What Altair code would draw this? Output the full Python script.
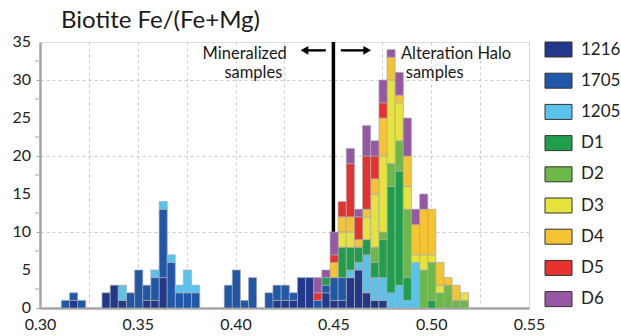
import altair as alt
import pandas as pd

# ---------------- data ----------------
bin_left = [0.3109, 0.3151, 0.3192, 0.3234, 0.3276, 0.3317, 0.3359, 0.3400, 0.3442, 0.3484,
            0.3525, 0.3567, 0.3609, 0.3650, 0.3692, 0.3733, 0.3775, 0.3817, 0.3858, 0.3900,
            0.3942, 0.3983, 0.4025, 0.4066, 0.4108, 0.4150, 0.4191, 0.4233, 0.4275, 0.4316,
            0.4358, 0.4399, 0.4441, 0.4483, 0.4524, 0.4566, 0.4608, 0.4649, 0.4691, 0.4733,
            0.4774, 0.4816, 0.4857, 0.4899, 0.4941, 0.4982, 0.5024, 0.5065, 0.5107, 0.5149]
BIN_W = 0.00416

series = ["1216", "1705", "1205", "D1", "D2", "D3", "D4", "D5", "D6"]
colors = ["#22398b", "#2157a8", "#5bc2ec", "#1f9e4b", "#6cb84b", "#e6e33c", "#f6c332", "#e5322f", "#9657a5"]

#            0  1  2  3  4  5  6  7  8  9 10 11 12 13 14 15 16 17 18 19 20 21 22 23 24 25 26 27 28 29 30 31 32 33 34 35 36 37 38 39 40 41 42 43 44 45 46 47 48 49
n_1216 = [0, 1, 0, 0, 0, 2, 3, 1, 0, 0, 1, 1, 4, 0, 0, 0, 0, 0, 0, 0, 0, 0, 0, 0, 0, 0, 1, 1, 1, 4, 4, 0, 2, 1, 1, 4, 5, 2, 1, 1, 0, 0, 0, 0, 0, 0, 0, 0, 0, 0]
n_1705 = [1, 1, 1, 0, 0, 0, 0, 0, 2, 5, 2, 3, 9, 6, 2, 2, 2, 0, 0, 0, 3, 5, 1, 4, 0, 2, 2, 2, 1, 0, 0, 1, 1, 3, 3, 0, 0, 0, 0, 0, 0, 0, 0, 0, 0, 0, 0, 0, 0, 0]
n_1205 = [0, 0, 0, 0, 0, 0, 0, 2, 0, 0, 0, 1, 1, 1, 1, 3, 1, 0, 0, 0, 0, 0, 0, 0, 0, 0, 0, 0, 0, 0, 0, 0, 0, 0, 0, 1, 1, 5, 3, 3, 2, 3, 1, 6, 0, 0, 0, 0, 0, 0]
n_D1 =   [0, 0, 0, 0, 0, 0, 0, 0, 0, 0, 0, 0, 0, 0, 0, 0, 0, 0, 0, 0, 0, 0, 0, 0, 0, 0, 0, 0, 0, 0, 0, 0, 1, 0, 4, 3, 2, 2, 2, 5, 14, 15, 3, 0, 0, 1, 0, 0, 0, 0]
n_D2 =   [0, 0, 0, 0, 0, 0, 0, 0, 0, 0, 0, 0, 0, 0, 0, 0, 0, 0, 0, 0, 0, 0, 0, 0, 0, 0, 0, 0, 0, 0, 0, 0, 0, 0, 0, 0, 0, 0, 2, 1, 3, 4, 9, 0, 5, 5, 2, 3, 1, 1]
n_D3 =   [0, 0, 0, 0, 0, 0, 0, 0, 0, 0, 0, 0, 0, 0, 0, 0, 0, 0, 0, 0, 0, 0, 0, 0, 0, 0, 0, 0, 0, 0, 0, 0, 0, 0, 2, 2, 0, 3, 7, 10, 11, 5, 3, 1, 2, 1, 1, 0, 0, 1]
n_D4 =   [0, 0, 0, 0, 0, 0, 0, 0, 0, 0, 0, 0, 0, 0, 0, 0, 0, 0, 0, 0, 0, 0, 0, 0, 0, 0, 0, 0, 0, 0, 0, 0, 0, 2, 2, 2, 1, 1, 2, 5, 3, 1, 4, 4, 6, 6, 3, 1, 2, 0]
n_D5 =   [0, 0, 0, 0, 0, 0, 0, 0, 0, 0, 0, 0, 0, 0, 0, 0, 0, 0, 0, 0, 0, 0, 0, 0, 0, 0, 0, 0, 0, 0, 0, 1, 0, 1, 2, 7, 3, 7, 3, 2, 0, 0, 0, 0, 0, 0, 0, 0, 0, 0]
n_D6 =   [0, 0, 0, 0, 0, 0, 0, 0, 0, 0, 0, 0, 0, 0, 0, 0, 0, 0, 0, 0, 0, 0, 0, 0, 0, 0, 0, 0, 0, 0, 0, 2, 1, 3, 0, 2, 1, 4, 2, 3, 1, 3, 5, 2, 2, 0, 0, 0, 0, 0]

y_major = [0, 5, 10, 15, 20, 25, 30, 35]
y_minor = [2.5, 7.5, 12.5, 17.5, 22.5, 27.5, 32.5]
x_ticks = [0.30, 0.325, 0.35, 0.375, 0.40, 0.425, 0.45, 0.475, 0.50, 0.525, 0.55]

divider_x = [0.45]
arrow_y = [33.9]
left_arrow = [0.4461, 0.4360]
right_arrow = [0.4538, 0.4665]
left_head = [0.4352]
right_head = [0.4673]

# ---------------- tables ----------------
counts = [n_1216, n_1705, n_1205, n_D1, n_D2, n_D3, n_D4, n_D5, n_D6]
rows = []
for si, (name, vals) in enumerate(zip(series, counts)):
    for k, n in enumerate(vals):
        if n > 0:
            rows.append({"x0": bin_left[k], "x1": round(bin_left[k] + BIN_W, 5),
                         "series": name, "n": n, "ord": si})
df = pd.DataFrame(rows)

FONT = "Lato"
xscale = alt.Scale(domain=[0.30, 0.55], nice=False, zero=False)
yscale = alt.Scale(domain=[0, 35], nice=False)

x_axis = alt.Axis(
    values=x_ticks,
    labelExpr="round(datum.value*40) % 2 == 0 ? format(datum.value, '.2f') : ''",
    title=None, grid=True, gridDash=[3, 3], gridColor="#cccccc", gridWidth=1,
    ticks=False, labelFontSize=16, labelFont=FONT, labelColor="#222222",
    labelPadding=8, domainColor="#a6a6a6", domainWidth=2.5,
    labelFlush=False, labelOverlap=False,
)
y_axis = alt.Axis(
    values=y_major, labels=False,
    title=None, grid=True, gridDash=[3, 3], gridColor="#cccccc", gridWidth=1,
    ticks=True, tickSize=4, tickColor="#a6a6a6",
    domainColor="#a6a6a6", domainWidth=2.5,
)

divider = alt.Chart(pd.DataFrame({"x": divider_x})).mark_rule(
    color="black", strokeWidth=3.5
).encode(
    x=alt.X("x:Q", scale=xscale, axis=x_axis),
    y=alt.value(0), y2=alt.value(266),
)

minor = alt.Chart(pd.DataFrame({"y": y_minor})).mark_rule(
    color="#a6a6a6", strokeWidth=1
).encode(
    y=alt.Y("y:Q", scale=yscale, axis=y_axis),
    x=alt.value(-5), x2=alt.value(-1),
)

ylabels = alt.Chart(pd.DataFrame({"y": y_major})).mark_text(
    align="right", baseline="middle", font=FONT, fontSize=16, color="#222222"
).encode(
    y=alt.Y("y:Q", scale=yscale, axis=y_axis),
    x=alt.value(-9),
    text=alt.Text("y:Q", format="d"),
)

bars = alt.Chart(df).transform_stack(
    stack="n", as_=["y0", "y1"], groupby=["x0"],
    sort=[alt.SortField("ord", order="ascending")],
).mark_bar(stroke="#a9a9a9", strokeWidth=0.7).encode(
    x=alt.X("x0:Q", scale=xscale, axis=x_axis),
    x2="x1:Q",
    y=alt.Y("y0:Q", scale=yscale, axis=y_axis),
    y2="y1:Q",
    color=alt.Color(
        "series:N",
        scale=alt.Scale(domain=series, range=colors),
        legend=alt.Legend(
            title=None, orient="none", legendX=510, legendY=-1,
            symbolType="M-1.8,-1H1.8V1H-1.8Z", symbolSize=225,
            symbolStrokeColor="#333333", symbolStrokeWidth=1, symbolOpacity=1,
            labelFontSize=17, labelFont=FONT, labelColor="#222222",
            labelOffset=14, rowPadding=12.2, padding=0,
        ),
    ),
)

arr_df = pd.DataFrame({"x": [left_arrow[0], right_arrow[0]],
                       "x2": [left_arrow[1], right_arrow[1]],
                       "y": arrow_y * 2})
shafts = alt.Chart(arr_df).mark_rule(color="black", strokeWidth=2.4).encode(
    x="x:Q", x2="x2:Q", y="y:Q")
lhead = alt.Chart(pd.DataFrame({"x": left_head, "y": arrow_y})).mark_point(
    shape="triangle-left", filled=True, color="black", size=80, opacity=1).encode(x="x:Q", y="y:Q")
rhead = alt.Chart(pd.DataFrame({"x": right_head, "y": arrow_y})).mark_point(
    shape="triangle-right", filled=True, color="black", size=80, opacity=1).encode(x="x:Q", y="y:Q")

txt_right = alt.Chart(pd.DataFrame({
    "x": [0.4262, 0.4239], "y": [32.8, 30.2], "t": ["Mineralized", "samples"]
})).mark_text(align="right", baseline="alphabetic", font=FONT, fontSize=16.5, color="#1a1a1a").encode(
    x="x:Q", y="y:Q", text="t:N")
txt_left = alt.Chart(pd.DataFrame({
    "x": [0.4845, 0.4870], "y": [32.8, 30.2], "t": ["Alteration Halo", "samples"]
})).mark_text(align="left", baseline="alphabetic", font=FONT, fontSize=16.5, color="#1a1a1a").encode(
    x="x:Q", y="y:Q", text="t:N")

chart = alt.layer(divider, minor, ylabels, bars, shafts, lhead, rhead, txt_right, txt_left).properties(
    width=489, height=266,
    padding={"left": 40, "top": 42, "right": 92, "bottom": 28},
    autosize=alt.AutoSizeParams(type="none"),
    title=alt.TitleParams("Biotite Fe/(Fe+Mg)", anchor="start", frame="group", fontSize=24, font=FONT,
                          fontWeight="normal", color="#1a1a1a", dx=21, offset=1),
).configure_view(stroke="#a6a6a6", strokeWidth=2).configure(background="white")

chart.save("out.html", embed_options={"renderer": "svg", "actions": False})
